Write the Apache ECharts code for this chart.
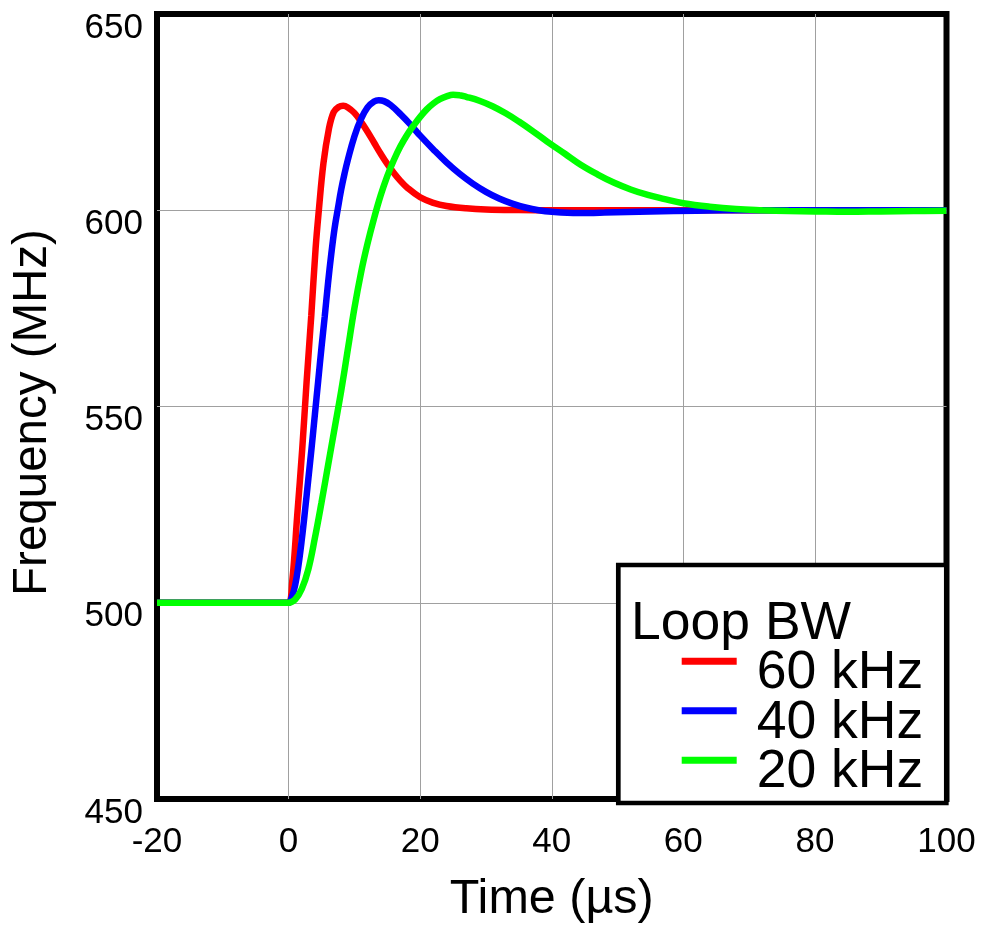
<!DOCTYPE html>
<html>
<head>
<meta charset="utf-8">
<title>PLL Frequency Step Response</title>
<script src="https://cdn.jsdelivr.net/npm/echarts@6/dist/echarts.min.js"></script>
<style>
  html, body { margin: 0; padding: 0; background: #fff; }
  #chart { width: 984px; height: 929px; }
</style>
</head>
<body>
<div id="chart"></div>
<script>
// Frequency settling after a 500 -> 600 MHz step, for three loop bandwidths
const seriesNames = ['60 kHz', '40 kHz', '20 kHz'];
const seriesColors = ['#ff0000', '#0000ff', '#00ff00'];

// 60 kHz loop
const t60 = [-20, -1, 0, 0.56, 1.32, 2.08, 2.74, 3.45, 4.1, 4.6, 5.3, 6.1, 6.85, 7.6, 8.3, 9, 10, 11, 12, 13, 14, 15, 16, 17, 18, 20, 22, 24, 27, 30, 35, 40, 50, 60, 80, 100];
const f60 = [500, 500, 500, 505.5, 522.4, 539.3, 556.3, 573.2, 590.1, 600, 612, 620.5, 625, 626.3, 626.6, 626.2, 624.8, 622.6, 620, 617.2, 614.4, 611.8, 609.5, 607.5, 605.8, 603.3, 601.9, 601.1, 600.5, 600.2, 600.05, 600, 600, 600, 600, 600];

// 40 kHz loop
const t40 = [-20, -1, 0, 0.5, 1, 1.5, 2, 2.5, 3, 3.5, 4, 4.5, 5, 5.5, 6, 6.5, 7, 7.5, 8, 8.5, 9, 10, 11, 12, 13, 13.7, 14.5, 15.5, 17, 18.6, 20, 22, 24, 26, 28, 30, 32, 34, 36, 38, 40, 44, 48, 55, 62, 70, 80, 100];
const f40 = [500, 500, 500, 501.5, 504.5, 509.5, 516, 523.5, 531.5, 539.5, 548, 556.5, 565, 573, 581.5, 589, 595.5, 600.5, 605.3, 609.3, 612.8, 618.8, 623.2, 626.2, 627.7, 628, 627.8, 626.8, 624.5, 621.7, 619, 615.5, 612.2, 609.3, 606.8, 604.7, 603, 601.7, 600.7, 600, 599.6, 599.3, 599.4, 599.7, 599.9, 600, 600, 600];

// 20 kHz loop
const t20 = [-20, -1, 0, 1, 2, 3, 4, 5, 6, 7, 8, 9, 10, 11, 12, 13, 14, 15, 16, 17, 18, 19, 20, 21, 22, 23, 24, 25, 26, 27, 29, 31, 33, 35, 37, 39.3, 42, 44.4, 47, 49.5, 52, 54.6, 57, 60, 64, 68, 72, 76, 80, 85, 90, 95, 100];
const f20 = [500, 500, 500, 500.8, 503.5, 508.5, 516.5, 525.5, 535, 544.5, 554, 564.5, 575, 584, 591.5, 598, 603.8, 608.7, 612.8, 616.3, 619.2, 621.6, 623.8, 625.7, 627.2, 628.3, 629, 629.4, 629.3, 628.9, 627.9, 626.5, 624.7, 622.6, 620.3, 617.5, 614.4, 611.6, 609.1, 607, 605.3, 603.9, 602.9, 601.8, 600.9, 600.3, 600, 599.8, 599.7, 599.6, 599.7, 599.8, 599.9];

// Axis ranges and tick spacing
const xMin = -20, xMax = 100, xStep = 20;
const yMin = 450, yMax = 650, yStep = 50;
const xTitle = 'Time (µs)';
const yTitle = 'Frequency (MHz)';
const legendTitle = 'Loop BW';

const FONT = '"Liberation Sans", Arial, Helvetica, sans-serif';

function pairs(ts, fs) {
  return ts.map((t, i) => [t, fs[i]]);
}

const seriesData = [pairs(t60, f60), pairs(t40, f40), pairs(t20, f20)];

const chart = echarts.init(document.getElementById('chart'), null, { renderer: 'canvas' });

const gridLineStyle = { color: '#a0a0a0', width: 1 };

chart.setOption({
  animation: false,
  backgroundColor: '#ffffff',
  grid: {
    left: 157, top: 14, right: 37.5, bottom: 126,
    show: true, borderColor: '#000', borderWidth: 6, backgroundColor: 'transparent',
    containLabel: false
  },
  xAxis: {
    type: 'value', min: xMin, max: xMax, interval: xStep,
    name: xTitle, nameLocation: 'middle', nameGap: 76,
    nameTextStyle: { fontSize: 48.5, fontFamily: FONT, color: '#000' },
    axisLine: { show: false }, axisTick: { show: false },
    axisLabel: { fontSize: 35, fontFamily: FONT, color: '#000', margin: 26 },
    splitLine: { show: true, showMinLine: false, showMaxLine: false, lineStyle: gridLineStyle }
  },
  yAxis: {
    type: 'value', min: yMin, max: yMax, interval: yStep,
    name: '{n|' + yTitle + '}', nameLocation: 'middle', nameGap: 100,
    nameTextStyle: {
      fontSize: 47.5, fontFamily: FONT, color: '#000',
      rich: { n: { fontSize: 47.5, fontFamily: FONT, color: '#000', padding: [0, 12, 0, 0] } }
    },
    axisLine: { show: false }, axisTick: { show: false },
    axisLabel: { fontSize: 35, fontFamily: FONT, color: '#000', margin: 14, verticalAlign: 'top', lineHeight: 28 },
    splitLine: { show: true, showMinLine: false, showMaxLine: false, lineStyle: gridLineStyle }
  },
  legend: {
    orient: 'vertical', left: 681.7, top: 622.3, padding: 0, itemGap: -28.5,
    itemWidth: 55, itemHeight: 7, icon: 'rect', selectedMode: false, z: 20,
    formatter: '{t|{name}}',
    textStyle: {
      fontSize: 53.5, fontFamily: FONT, color: '#000',
      rich: { t: { fontSize: 53.5, fontFamily: FONT, color: '#000', lineHeight: 25.5, padding: [24, 0, 0, 15] } }
    },
    data: seriesNames
  },
  graphic: [
    {
      type: 'rect', z: 15,
      shape: { x: 618.3, y: 565, width: 328, height: 238 },
      style: { fill: '#fff', stroke: '#000', lineWidth: 4.7 }
    },
    {
      type: 'text', z: 20, x: 631, y: 624,
      style: { text: legendTitle, fontSize: 53.5, fontFamily: FONT, fill: '#000', align: 'left', verticalAlign: 'middle' }
    }
  ],
  series: seriesNames.map((name, i) => ({
    name: name,
    type: 'line',
    data: seriesData[i],
    smooth: 0.4,
    showSymbol: false,
    symbol: 'none',
    itemStyle: { color: seriesColors[i] },
    lineStyle: { color: seriesColors[i], width: 6.5 },
    z: 2 + i
  }))
});
</script>
</body>
</html>
